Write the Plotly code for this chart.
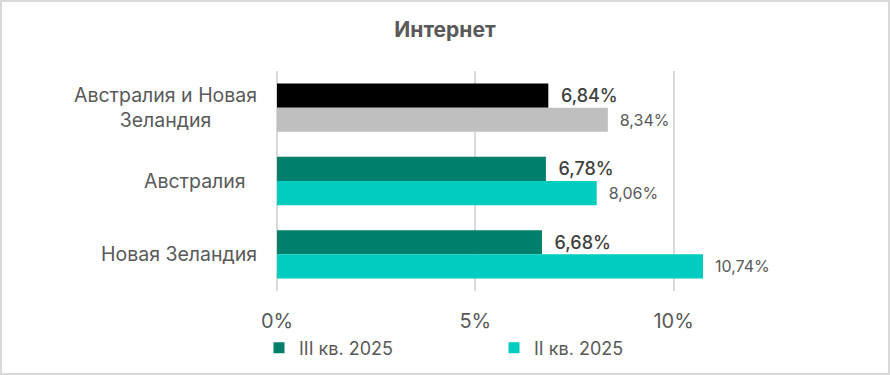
import plotly.graph_objects as go

categories = ["Австралия и Новая<br>Зеландия", "Австралия\u00a0\u00a0", "Новая Зеландия"]
series_names = ["III кв. 2025", "II кв. 2025"]
q3_values = [6.84, 6.78, 6.68]
q2_values = [8.34, 8.06, 10.74]
q3_colors = ["#000000", "#007F6D", "#007F6D"]
q2_colors = ["#BFBFBF", "#00CCBF", "#00CCBF"]
legend_colors = ["#007F6D", "#00CCBF"]
x_ticks = [0, 5, 10]
x_tick_labels = ["0%", "5%", "10%"]

def fmt(v):
    return f"{v:.2f}".replace(".", ",") + "%"

W, H = 890, 375
ml, mr, mt, mb = 277, 137, 71, 84
pw, ph = W - ml - mr, H - mt - mb
FONT = "Inter"

fig = go.Figure()
fig.add_trace(go.Bar(
    y=categories, x=q3_values, orientation="h", name=series_names[0],
    marker=dict(color=q3_colors, line=dict(width=0)),
    text=["  " + fmt(v) for v in q3_values], textposition="outside",
    constraintext="none",
    textfont=dict(size=18, color="#404040", family=FONT, weight=500),
    cliponaxis=False, showlegend=False, hoverinfo="skip",
))
fig.add_trace(go.Bar(
    y=categories, x=q2_values, orientation="h", name=series_names[1],
    marker=dict(color=q2_colors, line=dict(width=0)),
    text=["  " + fmt(v) for v in q2_values], textposition="outside",
    constraintext="none",
    textfont=dict(size=16, color="#595959", family=FONT),
    cliponaxis=False, showlegend=False, hoverinfo="skip",
))
for name, col in zip(series_names, legend_colors):
    fig.add_trace(go.Scatter(y=[None], x=[None], mode="markers", name=name,
                             marker=dict(color=col, symbol="square", size=11),
                             showlegend=True, hoverinfo="skip"))

annotations = []
for c in categories:
    annotations.append(dict(
        x=0, xref="paper", y=c, yref="y", text=c, showarrow=False,
        xanchor="right", align="center", xshift=-18,
        font=dict(size=19.5, color="#595959", family=FONT),
    ))

fig.update_layout(
    width=W, height=H,
    margin=dict(l=ml, r=mr, t=mt, b=mb, autoexpand=False),
    paper_bgcolor="white", plot_bgcolor="white",
    barmode="group", bargap=0.34, bargroupgap=0,
    title=dict(text="<b>Интернет</b>", x=0.5, xref="container", xanchor="center",
               y=1 - 30 / H, yref="container", yanchor="middle",
               font=dict(size=21, color="#595959", family=FONT)),
    font=dict(family=FONT, color="#595959"),
    xaxis=dict(range=[0, 12], tickvals=x_ticks, ticktext=x_tick_labels,
               showgrid=True, gridcolor="#D9D9D9", gridwidth=2,
               zeroline=True, zerolinecolor="#D9D9D9", zerolinewidth=2,
               showline=False, ticks="", ticklabelstandoff=16,
               tickfont=dict(size=20, color="#595959", family=FONT),
               fixedrange=True),
    yaxis=dict(autorange="reversed", showticklabels=False, showgrid=False,
               zeroline=False, showline=False, ticks="", fixedrange=True),
    legend=dict(orientation="h", x=(259 - ml) / pw, xanchor="left",
                y=(mt + ph - 348) / ph, yanchor="middle",
                entrywidth=190, entrywidthmode="pixels",
                font=dict(size=18, color="#595959", family=FONT),
                bgcolor="rgba(0,0,0,0)", itemclick=False, itemdoubleclick=False),
    annotations=annotations,
    shapes=[dict(type="rect", xref="paper", yref="paper",
                 x0=(1 - ml) / pw, x1=(W - 1 - ml) / pw,
                 y0=-(mb - 1) / ph, y1=1 + (mt - 1) / ph,
                 line=dict(color="#D9D9D9", width=2), fillcolor="rgba(0,0,0,0)",
                 layer="below")],
    showlegend=True,
)

fig.write_html("out.html", config={"displayModeBar": False},
               post_script="document.body.style.margin='0';")
